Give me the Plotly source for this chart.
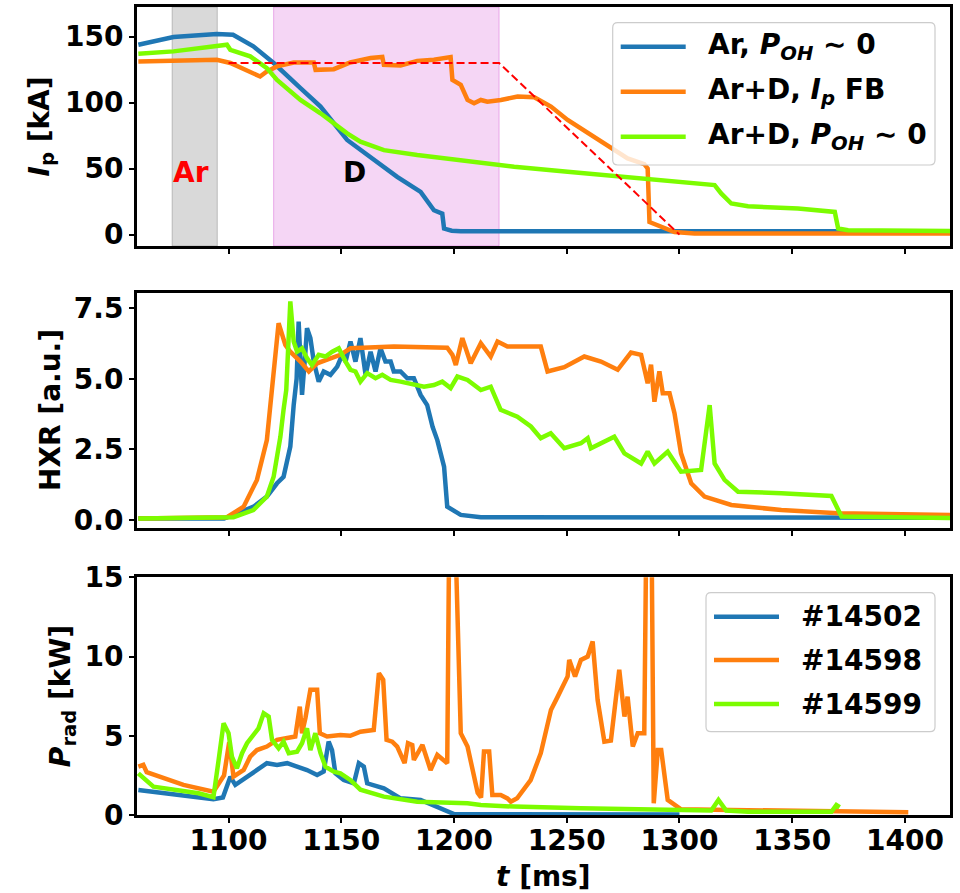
import plotly.graph_objects as go

# ---------------- data ----------------
# plasma current I_p [kA]
ip_t_14502 = [1060, 1075.6, 1094.8, 1102, 1111, 1120, 1131.9, 1140.8, 1152.6, 1164.4,
              1174.8, 1185.2, 1191.1, 1194.8, 1195.6, 1199, 1203, 1420]
ip_14502 = [143.8, 149.7, 152, 151.4, 142.6, 130, 111, 97, 71.7, 56.5,
            43.8, 32.4, 18.5, 15.9, 4.6, 3.0, 2.5, 2.5]

ip_t_14598 = [1060, 1080, 1094.8, 1100.8, 1111, 1114, 1117, 1121.5, 1128.9, 1137.8,
              1138.6, 1146.7, 1154, 1163, 1168.2, 1168.9, 1176.3, 1183.7, 1191.1, 1198.5,
              1199.3, 1203, 1206, 1208.9, 1211.9, 1214.8, 1220.8, 1228.2, 1235.6, 1243,
              1250.4, 1260.8, 1269.6, 1277, 1284.4, 1285.9, 1286.7, 1290.4, 1297.8, 1306.7,
              1420]
ip_14598 = [131.2, 131.5, 132.4, 130, 122.3, 119.8, 123.6, 127.4, 130.4, 130.4,
            124.8, 125.3, 130.4, 133.7, 134.5, 128.6, 128.1, 131.6, 132.4, 134.5,
            117.2, 113.4, 102, 99.5, 102, 100.7, 102, 104.6, 104.1, 97,
            86.9, 75.5, 65.3, 57.7, 53.4, 50.1, 9.6, 7.1, 2.0, 0.8,
            0.8]

ip_t_14599 = [1060, 1075.6, 1099.3, 1100.8, 1109.6, 1117, 1121.5, 1131.9, 1140.8, 1152.6,
              1158.5, 1168.9, 1183.7, 1198.5, 1211.9, 1226.7, 1250.4, 1271.1, 1294.8, 1315.6,
              1318.5, 1323, 1330.4, 1352.6, 1368.9, 1370.4, 1374.8, 1420]
ip_14599 = [137, 138.8, 143.8, 140, 135, 126.1, 117.2, 102, 91.9, 76.7,
            70.4, 64, 60.3, 57, 54.4, 51.4, 47.6, 44.3, 41.3, 37.5,
            31.2, 23.6, 21.5, 19.8, 17.2, 4.6, 3.3, 2.7]

# programmed current waveform for the feedback shot
ip_ref_t = [1100, 1220, 1300]
ip_ref = [130, 130, 0]

# hard X-ray signal [a.u.]
hxr_t_14502 = [1060, 1098, 1102.2, 1111.1, 1117, 1121.5, 1124.4, 1127.4, 1128.9, 1130.2,
               1131.1, 1132.6, 1134.1, 1134.8, 1136.3, 1137.8, 1140, 1142.2, 1145.2, 1148.2,
               1150.4, 1151.9, 1154.1, 1156.3, 1158.5, 1160.8, 1163, 1165.2, 1167.4, 1169.6,
               1171.9, 1173.3, 1176.3, 1179.3, 1182.2, 1185.2, 1188.1, 1190.5, 1192.6, 1195.6,
               1197, 1203, 1211.9, 1420]
hxr_14502 = [0.05, 0.05, 0.18, 0.47, 0.83, 1.3, 1.53, 2.6, 4.07, 5.0,
             7.03, 4.43, 5.96, 6.79, 6.44, 5.61, 4.9, 5.26, 5.14, 5.43,
             5.85, 5.61, 6.32, 5.61, 6.44, 5.14, 5.96, 5.26, 6.08, 5.61,
             5.61, 5.26, 5.26, 5.02, 5.02, 4.43, 4.07, 3.3, 2.83, 1.89,
             0.47, 0.18, 0.1, 0.08]

hxr_t_14598 = [1060, 1099.3, 1106.7, 1112.6, 1117, 1120, 1122.2, 1125.2, 1127.4, 1131.9,
               1135.6, 1139.3, 1143.7, 1149.6, 1154.1, 1173.3, 1197, 1199.3, 1200.8, 1203.7,
               1207.4, 1211.9, 1216.3, 1219.3, 1223.7, 1238.5, 1241.5, 1248.9, 1257.8, 1265.2,
               1272.6, 1278.5, 1283, 1285.9, 1287.4, 1288.9, 1291.1, 1292.6, 1295.6, 1297.8,
               1300.7, 1305.2, 1311.1, 1323, 1345.2, 1370.4, 1420]
hxr_14598 = [0.05, 0.1, 0.47, 1.42, 2.83, 5.2, 6.97, 6.2, 5.96, 5.61,
             5.26, 5.55, 5.67, 5.85, 6.08, 6.14, 6.1, 5.85, 5.49, 6.44,
             5.55, 6.26, 5.79, 6.32, 6.14, 6.14, 5.26, 5.41, 5.79, 5.61,
             5.32, 5.93, 5.85, 4.84, 5.5, 4.19, 5.26, 4.49, 4.49, 3.78,
             2.36, 1.3, 0.83, 0.53, 0.35, 0.24, 0.18]

hxr_t_14599 = [1060, 1102.2, 1111, 1117, 1120, 1123, 1124.4, 1125.6, 1127.4, 1128.9,
               1130.4, 1132.6, 1134.8, 1137, 1140, 1143, 1146, 1148.9, 1151.9, 1154.1,
               1156.3, 1158.5, 1161.5, 1165.2, 1168.2, 1171.9, 1176.3, 1182.2, 1186.7, 1191.1,
               1194.8, 1198.5, 1201.5, 1206, 1211.9, 1216.3, 1220.7, 1228.1, 1234.1, 1238.5,
               1242.9, 1248.9, 1256.3, 1259.3, 1260.7, 1271.1, 1275.6, 1283, 1285.9, 1288.9,
               1294.8, 1300.7, 1309.6, 1313.4, 1315.6, 1320, 1326, 1345.2, 1367.4, 1371.9,
               1420]
hxr_14599 = [0.05, 0.1, 0.35, 0.83, 1.53, 2.95, 3.9, 4.6, 7.74, 6.32,
             5.96, 6.08, 5.73, 5.49, 5.85, 5.79, 5.96, 6.08, 5.61, 5.32,
             5.26, 4.9, 5.2, 5.02, 5.14, 4.96, 4.9, 4.78, 4.72, 4.78,
             4.9, 4.67, 5.08, 4.96, 4.6, 4.72, 3.9, 3.66, 3.31, 2.9,
             3.07, 2.54, 2.72, 2.9, 2.54, 2.95, 2.36, 2.0, 2.42, 2.0,
             2.42, 1.71, 1.77, 4.07, 2.0, 1.42, 1.0, 0.95, 0.85, 0.12,
             0.07]

# radiated power P_rad [kW]
prad_t_14502 = [1060, 1093.3, 1097.5, 1099.3, 1100.8, 1103, 1108.2, 1112.6, 1117, 1121.5,
                1126, 1130.4, 1134.8, 1139.3, 1142.2, 1144.4, 1145.9, 1147.4, 1151.1, 1155.6,
                1157.8, 1160, 1161.5, 1168.9, 1176.3, 1185.2, 1195.6, 1200, 1300]
prad_14502 = [1.58, 0.99, 1.1, 1.79, 2.42, 1.9, 2.42, 2.84, 3.27, 3.16,
              3.27, 3.05, 2.84, 2.53, 2.74, 4.63, 4.1, 2.63, 2.21, 2.0,
              3.27, 3.05, 2.0, 1.68, 1.05, 0.95, 0.32, 0.06, 0.03]

prad_t_14598 = [1060, 1062.2, 1063.7, 1080, 1093.3, 1098, 1100.3, 1102.2, 1106.7, 1109.6,
                1112.6, 1117, 1121.5, 1126, 1129.6, 1131.6, 1132.6, 1134.1, 1136.3, 1139.3,
                1140.5, 1143.7, 1149.6, 1154, 1158.5, 1164.4, 1166.7, 1168.6, 1170.1, 1172.6,
                1174.8, 1178.1, 1179.6, 1181.5, 1182.2, 1186, 1189.6, 1192.6, 1197, 1197.8,
                1200.8, 1203, 1206, 1210.5, 1212, 1213.3, 1215.6, 1217, 1220.7, 1223.7,
                1225.2, 1228, 1234, 1238.5, 1243, 1246, 1250.4, 1251.1, 1253.7, 1256.3,
                1259.3, 1261.5, 1263.7, 1266.7, 1269.6, 1273.3, 1275.6, 1277, 1279.3, 1281.5,
                1284.4, 1285.2, 1287.7, 1288.6, 1290.4, 1291.9, 1294.8, 1300.7, 1330.4, 1401.5]
prad_14598 = [3.05, 3.16, 2.7, 1.9, 1.47, 2.5, 4.6, 2.42, 2.84, 3.68,
              4.1, 4.32, 4.74, 4.84, 4.95, 6.84, 5.16, 6.11, 7.9, 7.9,
              5.16, 4.95, 5.05, 5.0, 5.26, 5.37, 8.95, 8.53, 4.74, 4.63,
              4.32, 3.27, 4.53, 4.42, 3.47, 4.42, 2.84, 3.79, 3.27, 16.5,
              16.5, 5.16, 4.32, 1.4, 1.1, 4.0, 4.0, 1.26, 1.26, 1.05,
              0.84, 1.05, 2.2, 3.9, 6.63, 7.47, 8.74, 9.79, 8.74, 9.79,
              10.0, 10.95, 7.26, 4.63, 4.7, 9.16, 6.21, 7.47, 4.32, 5.16,
              5.16, 16.5, 16.5, 0.74, 4.1, 4.1, 0.95, 0.36, 0.3, 0.17]

prad_t_14599 = [1060, 1066.7, 1086.7, 1093.3, 1095.6, 1097.8, 1100, 1101.5, 1103.7, 1106,
                1108.2, 1111.1, 1113.3, 1115.6, 1117.8, 1119.3, 1122.2, 1124.4, 1126.7, 1130.4,
                1132.6, 1134.8, 1136.3, 1138.5, 1140.8, 1143, 1146.7, 1149.6, 1154, 1158.5,
                1168.9, 1183.7, 1206, 1211.9, 1226.7, 1256.3, 1285.9, 1314.1, 1317.3, 1320.7,
                1330.4, 1367.4, 1369.6, 1371.1]
prad_14599 = [2.63, 1.79, 1.37, 1.12, 3.47, 5.79, 5.16, 3.68, 2.95, 3.9,
              4.53, 5.05, 5.47, 6.42, 6.21, 4.74, 4.21, 4.63, 3.9, 4.0,
              4.53, 5.47, 4.1, 5.16, 3.9, 3.05, 2.74, 2.63, 2.21, 1.6,
              1.16, 0.84, 0.74, 0.63, 0.53, 0.42, 0.32, 0.28, 0.95, 0.28,
              0.2, 0.2, 0.63, 0.5]

# legend labels and styling
labels_top = ["Ar, <i>P</i><sub><i>OH</i></sub> ∼ 0",
              "Ar+D, <i>I</i><sub><i>p</i></sub> FB",
              "Ar+D, <i>P</i><sub><i>OH</i></sub> ∼ 0"]
labels_bottom = ["#14502", "#14598", "#14599"]
colors = ["#1f77b4", "#ff7f0e", "#7cfc00"]

x_ticks = [1100, 1150, 1200, 1250, 1300, 1350, 1400]

# ---------------- figure geometry ----------------
W, H = 960, 893
ML, MR, MT, MB = 137, 10, 7, 78
PW, PH = W - ML - MR, H - MT - MB
FONT = "DejaVu Sans"
FS = 28
LW = 4.5


def ypaper(py):
    return (H - MB - py) / PH


dom_top = [ypaper(246), 1.0]
dom_mid = [ypaper(528.3), ypaper(292.7)]
dom_bot = [0.0, ypaper(577.3)]

fig = go.Figure()

series = [
    ("x", "y", [(ip_t_14502, ip_14502), (ip_t_14598, ip_14598), (ip_t_14599, ip_14599)]),
    ("x2", "y2", [(hxr_t_14502, hxr_14502), (hxr_t_14598, hxr_14598), (hxr_t_14599, hxr_14599)]),
    ("x3", "y3", [(prad_t_14502, prad_14502), (prad_t_14598, prad_14598), (prad_t_14599, prad_14599)]),
]
for xa, ya, sets in series:
    for (t, v), c, name in zip(sets, colors, labels_bottom):
        fig.add_trace(go.Scatter(x=t, y=v, mode="lines", name=name, showlegend=False,
                                 line=dict(color=c, width=LW), xaxis=xa, yaxis=ya))

fig.add_trace(go.Scatter(x=ip_ref_t, y=ip_ref, mode="lines", showlegend=False,
                         line=dict(color="#ff0000", width=2, dash="8px,4px"),
                         xaxis="x", yaxis="y"))

# gas injection windows
fig.add_shape(type="rect", xref="x", yref="y domain", x0=1075, x1=1095, y0=0, y1=1,
              fillcolor="rgba(128,128,128,0.3)", line=dict(color="rgba(128,128,128,0.45)", width=1),
              layer="below")
fig.add_shape(type="rect", xref="x", yref="y domain", x0=1120, x1=1220, y0=0, y1=1,
              fillcolor="rgba(191,0,191,0.16)", line=dict(color="rgba(191,0,191,0.28)", width=1),
              layer="below")

annotations = [
    dict(x=1083.5, y=47, xref="x", yref="y", text="Ar", showarrow=False,
         font=dict(family=FONT, size=FS, color="#ff0000", weight="bold")),
    dict(x=1155.7, y=47, xref="x", yref="y", text="D", showarrow=False,
         font=dict(family=FONT, size=FS, color="black", weight="bold")),
]

# axis titles
tfont = dict(family=FONT, size=FS, color="black", weight="bold")
for txt, xpx, ymid in [("<i>I</i><sub>p</sub> [kA]", 41, sum(dom_top) / 2),
                       ("HXR [a.u.]", 50.5, sum(dom_mid) / 2),
                       ("<i>P</i><sub>rad</sub> [kW]", 62, sum(dom_bot) / 2)]:
    annotations.append(dict(x=(xpx - ML) / PW, y=ymid, xref="paper", yref="paper", text=txt,
                            textangle=-90, showarrow=False, xanchor="center", yanchor="middle",
                            font=tfont))
annotations.append(dict(x=0.5, y=ypaper(876), xref="paper", yref="paper", text="<i>t</i> [ms]",
                        showarrow=False, xanchor="center", yanchor="middle", font=tfont))


def add_legend(xref, yref, dom, box, rows, labels):
    """Rounded legend box with line samples, positions given in pixels."""
    y0d, y1d = dom
    def xd(px):
        return (px - ML) / PW
    def yd(py):
        return (ypaper(py) - y0d) / (y1d - y0d)
    bx0, by0, bx1, by1 = box
    r = 5
    path = (f"M{xd(bx0 + r)},{yd(by0)} L{xd(bx1 - r)},{yd(by0)} "
            f"Q{xd(bx1)},{yd(by0)} {xd(bx1)},{yd(by0 + r)} "
            f"L{xd(bx1)},{yd(by1 - r)} Q{xd(bx1)},{yd(by1)} {xd(bx1 - r)},{yd(by1)} "
            f"L{xd(bx0 + r)},{yd(by1)} Q{xd(bx0)},{yd(by1)} {xd(bx0)},{yd(by1 - r)} "
            f"L{xd(bx0)},{yd(by0 + r)} Q{xd(bx0)},{yd(by0)} {xd(bx0 + r)},{yd(by0)} Z")
    fig.add_shape(type="path", path=path, xref=xref + " domain", yref=yref + " domain",
                  fillcolor="rgba(255,255,255,0.8)", line=dict(color="#cccccc", width=1.2),
                  layer="above")
    for py, c, lab in zip(rows, colors, labels):
        fig.add_shape(type="line", xref=xref + " domain", yref=yref + " domain",
                      x0=xd(bx0 + 8), x1=xd(bx0 + 73), y0=yd(py), y1=yd(py),
                      line=dict(color=c, width=LW), layer="above")
        annotations.append(dict(x=xd(bx0 + 93), y=yd(py), xref=xref + " domain",
                                yref=yref + " domain", text=lab, showarrow=False,
                                xanchor="left", yanchor="middle",
                                font=dict(family=FONT, size=FS, color="black", weight="bold")))


add_legend("x", "y", dom_top, (612.7, 22.7, 935, 165), [46.7, 91.7, 136.7], labels_top)
add_legend("x3", "y3", dom_bot, (706, 592.7, 935, 731.7), [616.7, 660, 704], labels_bottom)

tickfont = dict(family=FONT, size=FS, color="black", weight="bold")
axis_common = dict(showline=True, linewidth=3, linecolor="black", mirror=True,
                   ticks="outside", ticklen=5, tickwidth=1.5, tickcolor="black",
                   showgrid=False, zeroline=False, tickfont=tickfont, automargin=False)
x_range = [1059.4, 1420]

fig.update_layout(
    width=W, height=H,
    margin=dict(l=ML, r=MR, t=MT, b=MB, autoexpand=False),
    paper_bgcolor="white", plot_bgcolor="white",
    font=dict(family=FONT, size=FS, color="black", weight="bold"),
    xaxis=dict(domain=[0, 1], anchor="y", range=x_range, tickvals=x_ticks,
               showticklabels=False, **axis_common),
    xaxis2=dict(domain=[0, 1], anchor="y2", range=x_range, tickvals=x_ticks,
                showticklabels=False, matches="x", **axis_common),
    xaxis3=dict(domain=[0, 1], anchor="y3", range=x_range, tickvals=x_ticks,
                matches="x", ticklabelstandoff=-7, **axis_common),
    yaxis=dict(domain=dom_top, anchor="x", range=[-8.6, 172.4],
               tickvals=[0, 50, 100, 150], **axis_common),
    yaxis2=dict(domain=dom_mid, anchor="x2", range=[-0.295, 8.05],
                tickvals=[0, 2.5, 5, 7.5], tickformat=".1f", **axis_common),
    yaxis3=dict(domain=dom_bot, anchor="x3", range=[0, 15],
                tickvals=[0, 5, 10, 15], **axis_common),
    annotations=annotations,
    showlegend=False,
)

fig.write_html("out.html")
